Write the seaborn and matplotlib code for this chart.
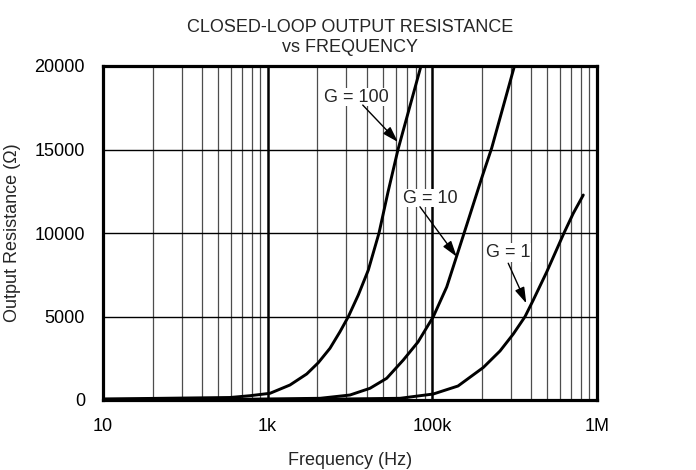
import numpy as np
import pandas as pd
import matplotlib
matplotlib.use("Agg")
import matplotlib.pyplot as plt
import seaborn as sns

# Curve readings (x is position on the log axis, y in ohms)
freq_g100 = [1000, 5900, 7810, 10330, 13660, 17260, 20300, 23900, 27500, 30880,
             35510, 40850, 47440, 53800, 61880, 85330, 90250]
res_g100 = [60, 150, 257, 401, 898, 1557, 2234, 3096, 4090, 4988,
            6287, 7780, 10000, 12450, 15000, 20000, 20400]

freq_g10 = [1000, 7810, 20790, 31620, 41820, 52820, 66640, 81840, 101340, 122270,
            140600, 161700, 199400, 229400, 317700]
res_g10 = [40, 50, 102, 299, 701, 1299, 2395, 3473, 4988, 6767,
           8620, 10480, 13290, 15090, 20120]

freq_g1 = [1000, 15720, 63630, 101340, 143200, 203900, 257600, 310200, 365300,
           410300, 494900, 630200, 717800, 825600]
res_g1 = [30, 30, 102, 359, 838, 1946, 2934, 3952, 4988,
          5988, 7665, 10000, 11180, 12275]

gain_labels = ["G = 100", "G = 10", "G = 1"]
x_ticks = [1e3, 1e4, 1e5, 1e6]
x_tick_labels = ["10", "1k", "100k", "1M"]
y_ticks = [0, 5000, 10000, 15000, 20000]

df = pd.concat([
    pd.DataFrame({"freq": freq_g100, "res": res_g100, "gain": gain_labels[0]}),
    pd.DataFrame({"freq": freq_g10, "res": res_g10, "gain": gain_labels[1]}),
    pd.DataFrame({"freq": freq_g1, "res": res_g1, "gain": gain_labels[2]}),
])

sns.set_theme(style="white")
plt.rcParams["font.family"] = ["Liberation Sans", "DejaVu Sans"]

fig = plt.figure(figsize=(6.96, 4.70), dpi=100)
ax = fig.add_axes([103 / 696, 1 - 400 / 470, 494 / 696, 334 / 470])

# grid: minor verticals, decade lines, horizontal lines
for dec in [1e3, 1e4, 1e5]:
    for m in range(2, 10):
        ax.axvline(dec * m, color="0.3", lw=0.9, zorder=1)
for dec in [1e4, 1e5]:
    ax.axvline(dec, color="black", lw=1.8, zorder=1)
for yv in y_ticks[1:-1]:
    ax.axhline(yv, color="black", lw=1.0, zorder=1)

sns.lineplot(data=df, x="freq", y="res", hue="gain", palette=["black"] * 3,
             legend=False, lw=2.1, sort=False, estimator=None, ax=ax, zorder=3)

ax.set_xscale("log")
ax.set_xlim(1e3, 1e6)
ax.set_ylim(0, 20000)
ax.set_xticks(x_ticks)
ax.set_xticklabels(x_tick_labels)
ax.set_xticks([], minor=True)
ax.set_yticks(y_ticks)
ax.tick_params(axis="both", length=0, pad=13, labelsize=13, colors="black")
for s in ax.spines.values():
    s.set_linewidth(2.3)
    s.set_color("black")
    s.set_zorder(5)

ax.set_xlabel("Frequency (Hz)", fontsize=13, labelpad=12)
ax.set_ylabel("Output Resistance (Ω)", fontsize=13, labelpad=10)
ax.set_title("CLOSED-LOOP OUTPUT RESISTANCE\nvs FREQUENCY", fontsize=13, pad=10,
             linespacing=1.25)

# labels with arrows
notes = [
    ("G = 100", (34400, 18140), (37800, 17660), (61800, 15450)),
    ("G = 10", (96800, 12080), (84100, 11570), (140600, 8580)),
    ("G = 1", (289000, 8820), (289000, 8190), (372000, 5790)),
]
for txt, tpos, tail, head in notes:
    ax.text(tpos[0], tpos[1], txt, ha="center", va="center", fontsize=13, zorder=6,
            bbox=dict(facecolor="white", edgecolor="none", pad=0.5))
    ax.annotate("", xy=head, xytext=tail, zorder=6,
                arrowprops=dict(arrowstyle="-|>,head_length=0.8,head_width=0.25",
                                color="black", lw=1.0, shrinkA=0, shrinkB=0))

fig.savefig("out.png", dpi=100)
